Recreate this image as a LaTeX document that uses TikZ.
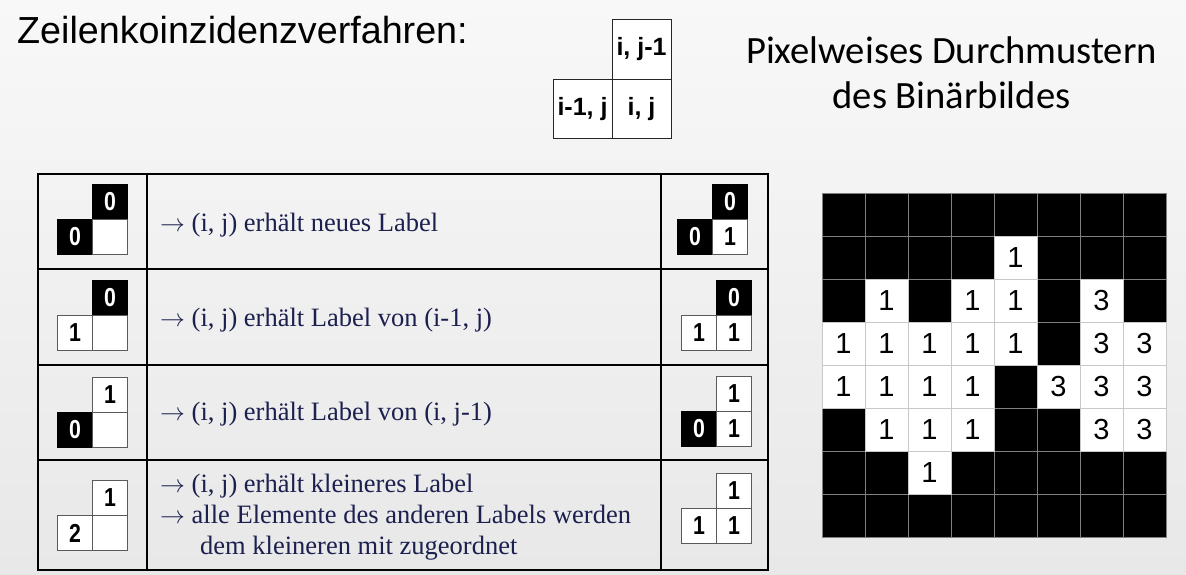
\documentclass[tikz,border=0pt]{standalone}
\usepackage{fontspec}
\setmainfont{Liberation Serif}
\newfontfamily\arialf{Liberation Sans}
\newfontfamily\calibrif{Carlito}
\definecolor{navy}{RGB}{28,32,78}
\definecolor{bgtop}{RGB}{248,248,248}
\definecolor{bgbot}{RGB}{232,232,232}
\definecolor{cellline}{RGB}{90,90,90}
\definecolor{gridgray}{RGB}{128,128,128}
\definecolor{gridlight}{RGB}{200,200,200}
\newcommand{\narrowdigit}[1]{\scalebox{0.82}[1]{#1}}
\tikzset{
  tabline/.style={line width=1.8pt, black},
  tcell/.style={draw=black!85, line width=0.8pt, fill=white, minimum width=59pt, minimum height=59.5pt, inner sep=0pt, font=\arialf\bfseries\fontsize{25}{28}\selectfont},
  bcell/.style={draw=black, fill=black, text=white, line width=0.6pt, minimum size=35pt, inner sep=0pt, font=\arialf\bfseries\fontsize{26}{28}\selectfont},
  wcell/.style={draw=cellline, fill=white, text=black, line width=0.8pt, minimum size=35pt, inner sep=0pt, font=\arialf\bfseries\fontsize{26}{28}\selectfont},
  rtext/.style={anchor=base west, inner sep=0pt, text=navy, font=\fontsize{26.5}{31}\selectfont},
  gcell/.style={draw=gridlight, fill=white, line width=0.8pt, minimum size=43pt, inner sep=0pt, font=\arialf\fontsize{29}{32}\selectfont},
}
% icon: #1 name, #2 x, #3 y (centre of cell (i,j)), #4 style top, #5 text top, #6 style left, #7 text left, #8 style right, #9 text right
\newcommand{\iconcells}[9]{%
  \node[#4] (#1t) at (#2,#3-35) {\narrowdigit{#5}};
  \node[#6] (#1l) at (#2-35,#3) {\narrowdigit{#7}};
  \node[#8] (#1r) at (#2,#3) {\narrowdigit{#9}};
}
\begin{document}
\begin{tikzpicture}[x=1pt,y=-1pt]
\shade[top color=bgtop, bottom color=bgbot] (0,0) rectangle (1186,574);
\useasboundingbox (0,0) rectangle (1186,574);

% titles
\node[anchor=base west, inner sep=0pt, font=\arialf\fontsize{37.7}{44}\selectfont] (title) at (17,43) {Zeilenkoinzidenzverfahren:};
\node[anchor=base, inner sep=0pt, font=\calibrif\fontsize{38.6}{45}\selectfont] (head1) at (951.5,63) {Pixelweises Durchmustern};
\node[anchor=base, inner sep=0pt, font=\calibrif\fontsize{38.6}{45}\selectfont] (head2) at (951.5,108) {des Binärbildes};

% template
\node[tcell] (tij) at (641.5,109) {i, j};
\node[tcell] (tj1) at (641.5,49.5) {i, j-1};
\node[tcell] (ti1) at (582.5,109) {i-1, j};

% table
\draw[tabline] (38,174) rectangle (768,570);
\draw[tabline] (147,174) -- (147,570);
\draw[tabline] (661,174) -- (661,570);
\draw[tabline] (38,269) -- (768,269);
\draw[tabline] (38,365) -- (768,365);
\draw[tabline] (38,460) -- (768,460);

% left icons
\iconcells{a1}{110}{237}{bcell}{0}{bcell}{0}{wcell}{}
\iconcells{a2}{110}{333}{bcell}{0}{wcell}{1}{wcell}{}
\iconcells{a3}{110}{430}{wcell}{1}{bcell}{0}{wcell}{}
\iconcells{a4}{110}{533}{wcell}{1}{wcell}{2}{wcell}{}
% right icons
\iconcells{b1}{730}{237}{bcell}{0}{bcell}{0}{wcell}{1}
\iconcells{b2}{734}{333}{bcell}{0}{wcell}{1}{wcell}{1}
\iconcells{b3}{734}{429}{wcell}{1}{bcell}{0}{wcell}{1}
\iconcells{b4}{734}{526}{wcell}{1}{wcell}{1}{wcell}{1}

% rule texts
\node[rtext] (t1) at (160,231) {$\rightarrow$ (i, j) erhält neues Label};
\node[rtext] (t2) at (160,326) {$\rightarrow$ (i, j) erhält Label von (i-1, j)};
\node[rtext] (t3) at (160,420) {$\rightarrow$ (i, j) erhält Label von (i, j-1)};
\node[rtext] (t4a) at (160,492) {$\rightarrow$ (i, j) erhält kleineres Label};
\node[rtext] (t4b) at (160,523) {$\rightarrow$ alle Elemente des anderen Labels werden};
\node[rtext] (t4c) at (200,554) {dem kleineren mit zugeordnet};

% binary image grid
\node[draw=gridgray, fill=black, line width=0.8pt, minimum width=344pt, minimum height=344pt, inner sep=0pt] (gridbg) at (994,365) {};
\foreach \k in {1,...,7} {
  \draw[gridgray, line width=0.8pt] (822+43*\k,193) -- (822+43*\k,537);
  \draw[gridgray, line width=0.8pt] (822,193+43*\k) -- (1166,193+43*\k);
}
\foreach \r/\c/\v in {1/4/1,
  2/1/1,2/3/1,2/4/1,2/6/3,
  3/0/1,3/1/1,3/2/1,3/3/1,3/4/1,3/6/3,3/7/3,
  4/0/1,4/1/1,4/2/1,4/3/1,4/5/3,4/6/3,4/7/3,
  5/1/1,5/2/1,5/3/1,5/6/3,5/7/3,
  6/2/1} {
  \node[gcell] (g-\r-\c) at (843.5+43*\c,214.5+43*\r) {\v};
}
\end{tikzpicture}
\end{document}
